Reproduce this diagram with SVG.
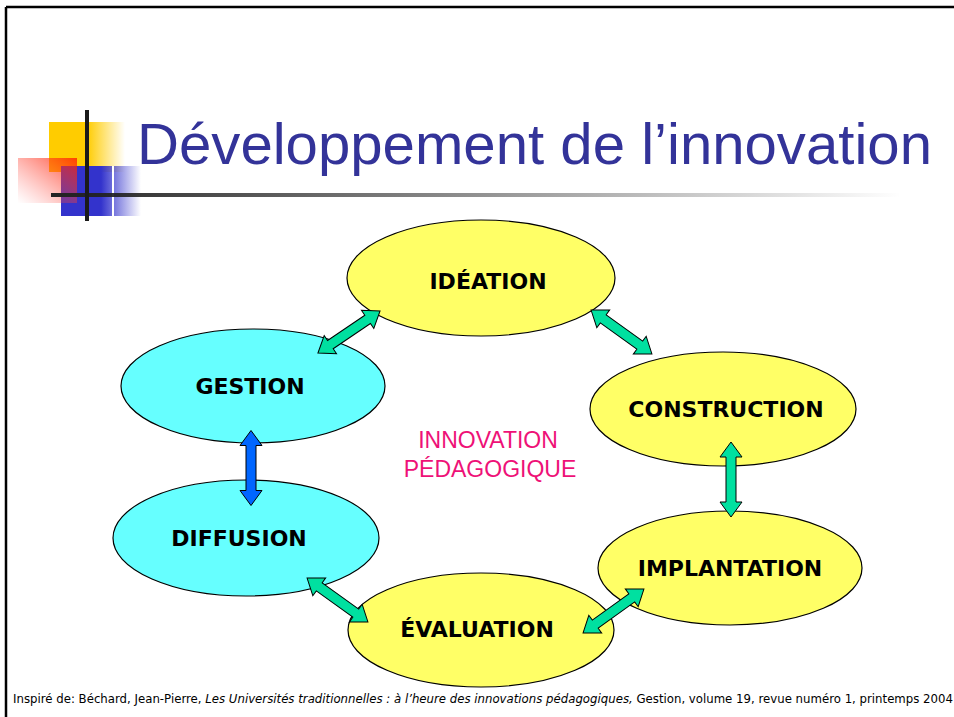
<svg xmlns="http://www.w3.org/2000/svg" width="954" height="717" viewBox="0 0 954 717">
<defs>
<style>
.el{stroke:#000;stroke-width:1.2}
.y{fill:#FFFF66}
.c{fill:#66FFFF}
.lbl{font-family:"DejaVu Sans",Verdana,sans-serif;font-weight:bold;font-size:22px;fill:#000;text-anchor:middle}
.ctr{font-family:"Liberation Sans",Arial,sans-serif;font-size:23px;fill:#EE1177;text-anchor:middle}
.arr{stroke:#000;stroke-width:1;stroke-linejoin:miter}
.g{fill:#00E0A0}
.b{fill:#0066FF}
</style>
<linearGradient id="gy" x1="0" y1="0" x2="1" y2="0">
<stop offset="0" stop-color="#FFCC00"/><stop offset="0.5" stop-color="#FFCC00"/><stop offset="1" stop-color="#FFCC00" stop-opacity="0"/>
</linearGradient>
<linearGradient id="gb" x1="0" y1="0" x2="1" y2="0">
<stop offset="0" stop-color="#3333CC"/><stop offset="0.5" stop-color="#3333CC"/><stop offset="1" stop-color="#3333CC" stop-opacity="0"/>
</linearGradient>
<linearGradient id="gr" x1="1" y1="0" x2="0" y2="1">
<stop offset="0" stop-color="#FF2000" stop-opacity="0.95"/><stop offset="1" stop-color="#FF6060" stop-opacity="0"/>
</linearGradient>
<linearGradient id="gl" x1="0" y1="0" x2="1" y2="0">
<stop offset="0" stop-color="#222"/><stop offset="1" stop-color="#222" stop-opacity="0"/>
</linearGradient>
<path id="dar" d="M-37.5,0 L-22.5,-11 L-22.5,-5 L22.5,-5 L22.5,-11 L37.5,0 L22.5,11 L22.5,5 L-22.5,5 L-22.5,11 Z"/>
</defs>
<rect width="954" height="717" fill="#fff"/>
<g id="frame">
<line x1="6" y1="7" x2="954" y2="7" stroke="#000" stroke-width="2.5"/>
<line x1="6" y1="7" x2="6" y2="717" stroke="#000" stroke-width="2.5"/>
</g>
<g id="title">
<rect x="49" y="122" width="76" height="50" fill="url(#gy)"/>
<rect x="61" y="166" width="80" height="50" fill="url(#gb)"/>
<rect x="112" y="166" width="2" height="50" fill="#fff"/>
<rect x="18" y="158" width="59" height="45" fill="url(#gr)" opacity="0.85"/>
<rect x="51" y="193" width="850" height="4" fill="url(#gl)"/>
<rect x="85" y="110" width="4" height="111" fill="#1a1a1a"/>
<text x="137" y="164" font-family="Liberation Sans,Arial,sans-serif" font-size="58" fill="#333399" textLength="795" lengthAdjust="spacingAndGlyphs">Développement de l’innovation</text>
</g>
<g id="ideation"><ellipse class="el y" cx="481" cy="278" rx="134" ry="58"/><text class="lbl" x="488" y="289">IDÉATION</text></g>
<g id="gestion"><ellipse class="el c" cx="253" cy="386" rx="132" ry="57"/><text class="lbl" x="250" y="394">GESTION</text></g>
<g id="construction"><ellipse class="el y" cx="723" cy="409" rx="133" ry="57"/><text class="lbl" x="726" y="417">CONSTRUCTION</text></g>
<g id="diffusion"><ellipse class="el c" cx="246" cy="538" rx="133" ry="58"/><text class="lbl" x="239" y="546">DIFFUSION</text></g>
<g id="implantation"><ellipse class="el y" cx="730" cy="568" rx="132" ry="57"/><text class="lbl" x="730" y="576">IMPLANTATION</text></g>
<g id="evaluation"><ellipse class="el y" cx="481" cy="630" rx="133" ry="57"/><text class="lbl" x="477" y="637">ÉVALUATION</text></g>
<g id="center"><text class="ctr" x="488" y="448">INNOVATION</text><text class="ctr" x="490" y="477">PÉDAGOGIQUE</text></g>
<g id="connectors">
<use href="#dar" class="arr g" transform="translate(349,332) rotate(-34.1)"/>
<use href="#dar" class="arr g" transform="translate(621.5,332) rotate(35.8)"/>
<use href="#dar" class="arr b" transform="translate(251,468) rotate(90)"/>
<use href="#dar" class="arr g" transform="translate(731,479.5) rotate(90)"/>
<use href="#dar" class="arr g" transform="translate(337.5,600) rotate(35.8)"/>
<use href="#dar" class="arr g" transform="translate(613.5,611) rotate(-35.8)"/>
</g>
<g id="footer">
<rect x="8" y="688" width="946" height="29" fill="#fff"/>
<text x="13" y="703" font-family="DejaVu Sans,Verdana,sans-serif" font-size="11.5" fill="#000" textLength="940" lengthAdjust="spacingAndGlyphs">Inspiré de: Béchard, Jean-Pierre, <tspan font-style="italic">Les Universités traditionnelles : à l’heure des innovations pédagogiques,</tspan> Gestion, volume 19, revue numéro 1, printemps 2004</text>
</g>
</svg>
